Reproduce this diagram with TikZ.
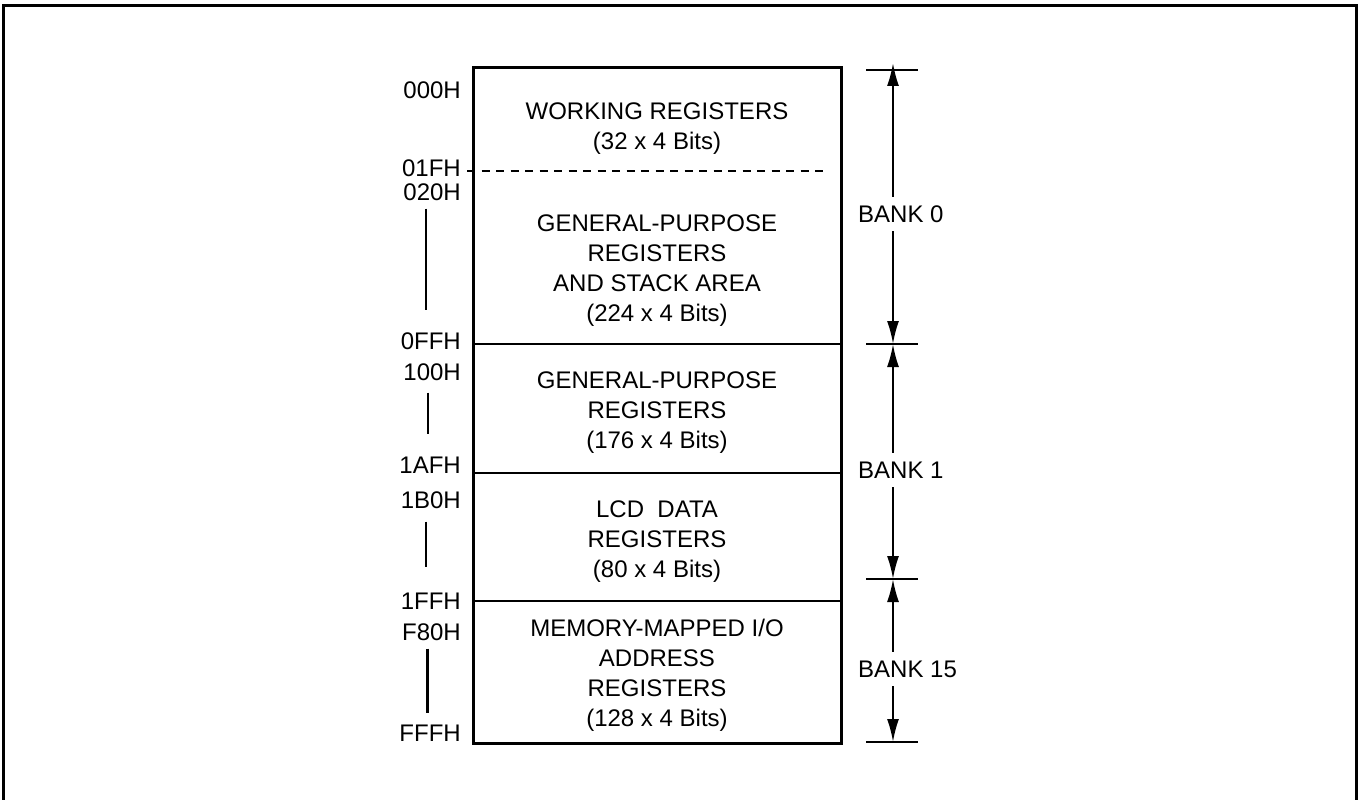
\documentclass[tikz,border=0pt]{standalone}
\usepackage{fontspec}
\setmainfont{Liberation Sans}
\usetikzlibrary{arrows.meta,positioning,calc}

\begin{document}
\begin{tikzpicture}[x=1pt, y=-1pt,
  region/.style={align=center, inner sep=0pt, font=\fontsize{24}{30}\selectfont},
  addr/.style={anchor=east, inner sep=0pt, font=\fontsize{24}{28}\selectfont},
  bank/.style={anchor=west, inner sep=0pt, minimum height=34pt, font=\fontsize{24}{28}\selectfont},
  span/.style={-{Latex[length=23pt, width=12pt]}, line width=2pt},
  tick/.style={line width=2pt},
  bar/.style={line width=2.5pt}
]
\useasboundingbox (0,0) rectangle (1361,800);
\draw[line width=3pt] (3.5,800) -- (3.5,5.5) -- (1356,5.5) -- (1356,800);

% memory map
\draw[line width=3pt] (473,68) rectangle (841,743);
\draw[line width=2.5pt] (473,344) -- (841,344) (473,473) -- (841,473) (473,601) -- (841,601);
\draw[line width=2pt, dash pattern=on 8pt off 6.5pt] (467,171) -- (826,171);

\node[region] (work) at (657,129) {WORKING REGISTERS\\(32 x 4 Bits)};
\node[region] (gp0) at (657,271) {GENERAL-PURPOSE\\REGISTERS\\AND STACK AREA\\(224 x 4 Bits)};
\node[region] (gp1) at (657,413) {GENERAL-PURPOSE\\REGISTERS\\(176 x 4 Bits)};
\node[region] (lcd) at (657,542) {LCD\ \ DATA\\REGISTERS\\(80 x 4 Bits)};
\node[region] (mmio) at (657,675) {MEMORY-MAPPED I/O\\ADDRESS\\REGISTERS\\(128 x 4 Bits)};

% addresses
\node[addr] (a000) at (461,90) {000H};
\node[addr] (a01f) at (461,168) {01FH};
\node[addr] (a020) at (461,192) {020H};
\node[addr] (a0ff) at (461,341) {0FFH};
\node[addr] (a100) at (461,372) {100H};
\node[addr] (a1af) at (461,465) {1AFH};
\node[addr] (a1b0) at (461,500) {1B0H};
\node[addr] (a1ff) at (461,601) {1FFH};
\node[addr] (af80) at (461,632) {F80H};
\node[addr] (afff) at (461,733) {FFFH};

\draw[bar, shorten <=8pt, shorten >=22pt] ([xshift=-6pt]a020.south) -- ([xshift=-6pt]a020.south |- a0ff.north);
\draw[bar, shorten <=12pt, shorten >=23pt] ([xshift=-4pt]a100.south) -- ([xshift=-4pt]a100.south |- a1af.north);
\draw[bar, shorten <=13pt, shorten >=26pt] ([xshift=-5pt]a1b0.south) -- ([xshift=-5pt]a1b0.south |- a1ff.north);
\draw[bar, shorten <=8pt, shorten >=12pt] ([xshift=-4pt]af80.south) -- ([xshift=-4pt]af80.south |- afff.north);

% banks
\coordinate (t0) at (893,70);
\coordinate (t1) at (893,344);
\coordinate (t2) at (893,579);
\coordinate (t3) at (893,742);
\foreach \t in {t0,t1,t2,t3}
  \draw[tick] ([xshift=-27pt]\t) -- ([xshift=25pt]\t);

\node[bank] (b0) at (858,214) {BANK 0};
\node[bank] (b1) at (858,470) {BANK 1};
\node[bank] (b15) at (858,669) {BANK 15};

\draw[span] (b0.north -| t0) -- ([yshift=7pt]t0);
\draw[span] (b0.south -| t0) -- (t1);
\draw[span] (b1.north -| t1) -- (t1);
\draw[span] (b1.south -| t1) -- (t2);
\draw[span] (b15.north -| t2) -- (t2);
\draw[span] (b15.south -| t2) -- (t3);

\end{tikzpicture}
\end{document}
